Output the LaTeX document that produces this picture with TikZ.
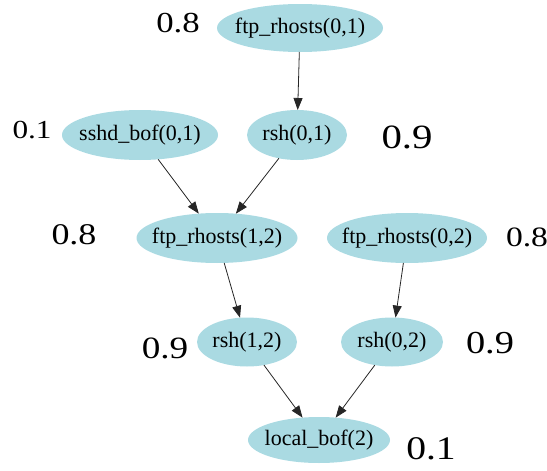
\documentclass[tikz,border=0pt]{standalone}
\usepackage{fontspec}
\setmainfont{Liberation Serif}
\usetikzlibrary{shapes.geometric,arrows.meta}
\definecolor{nodefill}{RGB}{170,218,226}
% zero-width label so the ellipse size is set by the minimum sizes alone
\newcommand{\zwtext}[1]{\makebox[0pt]{#1}}
\tikzset{
  state/.style={ellipse, fill=nodefill, inner sep=0pt, outer sep=0pt,
    font=\fontsize{22}{24}\selectfont},
  prob/.style={inner sep=0pt, font=\fontsize{#1}{#1}\selectfont, xscale=1.2},
  edge/.style={draw=black!85, line width=0.8pt,
    -{Triangle[length=12pt,width=9pt]}}
}
\begin{document}
\begin{tikzpicture}[x=1pt,y=-1pt]
\useasboundingbox (0,0) rectangle (547,471);
% attack-graph states
\node[state, minimum width=166, minimum height=48] (a) at (300,28) {\zwtext{ftp\_rhosts(0,1)}};
\node[state, minimum width=100, minimum height=50] (b) at (297,135) {\zwtext{rsh(0,1)}};
\node[state, minimum width=156, minimum height=50] (c) at (140,135) {\zwtext{sshd\_bof(0,1)}};
\node[state, minimum width=161, minimum height=50] (d) at (217,238) {\zwtext{ftp\_rhosts(1,2)}};
\node[state, minimum width=160, minimum height=50] (e) at (407,238) {\zwtext{ftp\_rhosts(0,2)}};
\node[state, minimum width=100, minimum height=49] (f) at (247,342) {\zwtext{rsh(1,2)}};
\node[state, minimum width=102, minimum height=49] (g) at (392,342) {\zwtext{rsh(0,2)}};
\node[state, minimum width=142, minimum height=46] (h) at (319,440) {\zwtext{local\_bof(2)}};
% probabilities
\node[prob=29] (pa) at (178,23) {0.8};
\node[prob=26] (pc) at (32,130) {0.1};
\node[prob=34] (pb) at (407,137) {0.9};
\node[prob=30] (pd) at (74,235) {0.8};
\node[prob=28] (pe) at (527,237) {0.8};
\node[prob=31] (pf) at (165,348) {0.9};
\node[prob=32] (pg) at (490,343) {0.9};
\node[prob=33] (ph) at (431,449) {0.1};
% edges
\draw[edge] (a) -- (b);
\draw[edge] (c) -- (d);
\draw[edge] (b) -- (d);
\draw[edge] (d) -- (f);
\draw[edge] (e) -- (g);
\draw[edge] (f) -- (h);
\draw[edge] (g) -- (h);
\end{tikzpicture}
\end{document}
